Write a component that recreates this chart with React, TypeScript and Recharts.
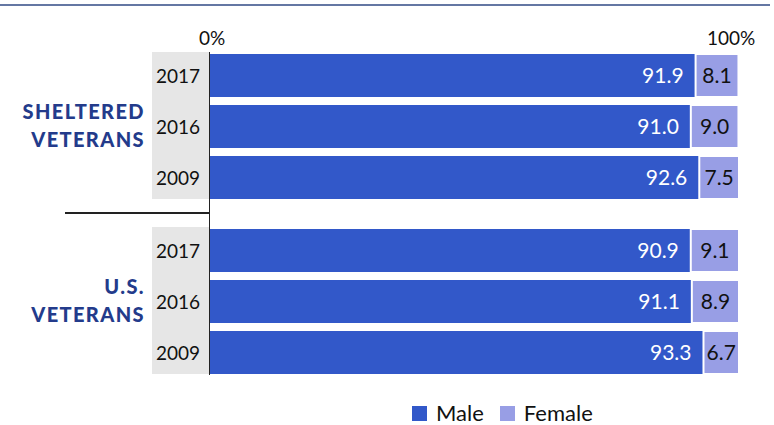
import React from 'react'
import { BarChart, Bar, XAxis, YAxis, LabelList } from 'recharts'

// Veterans by gender, sheltered vs all U.S. veterans (share of each year, %)
const years = ['2017', '2016', '2009']
const shelteredMale = [91.9, 91.0, 92.6]
const shelteredFemale = [8.1, 9.0, 7.5]
const usMale = [90.9, 91.1, 93.3]
const usFemale = [9.1, 8.9, 6.7]
const groupLabels = [['SHELTERED', 'VETERANS'], ['U.S.', 'VETERANS']]
const axisLabels = ['0%', '100%']

const MALE = '#3258c9'
const FEMALE = '#989ee5'
const NAVY = '#233b8b'
const FONT = 'Lato, "Open Sans", sans-serif'

function rows(male: number[], female: number[]) {
  return years.map((y, i) => ({ year: y, male: male[i], female: female[i] }))
}

const fmt = (v: number) => v.toFixed(1)

function YearTick({ x, y, payload }: { x?: number; y?: number; payload?: { value: string } }) {
  return (
    <text x={x} y={y} dy={7} textAnchor="end" fill="#111" fontSize={19} fontFamily={FONT}>
      {payload?.value}
    </text>
  )
}

function GroupChart({ data, top }: { data: ReturnType<typeof rows>; top: number }) {
  return (
    <div style={{ position: 'absolute', left: 152, top }}>
      <BarChart
        width={587}
        height={153}
        data={data}
        layout="vertical"
        margin={{ top: 0, right: 0, bottom: 0, left: 0 }}
        barSize={43}
      >
        <XAxis type="number" domain={[0, 100]} hide />
        <YAxis
          type="category"
          dataKey="year"
          width={57}
          axisLine={false}
          tickLine={false}
          tickMargin={3}
          tick={<YearTick />}
        />
        <Bar dataKey="male" stackId="g" fill={MALE} isAnimationActive={false}>
          <LabelList
            dataKey="male"
            position="insideRight"
            offset={12}
            formatter={fmt}
            fill="#fff"
            fontSize={21}
            fontFamily={FONT}
          />
        </Bar>
        <Bar dataKey="female" stackId="g" fill={FEMALE} stroke="#fff" strokeWidth={2} isAnimationActive={false}>
          <LabelList
            dataKey="female"
            position="center"
            formatter={fmt}
            fill="#111"
            fontSize={21}
            fontFamily={FONT}
          />
        </Bar>
      </BarChart>
    </div>
  )
}

function GroupLabel({ lines, top }: { lines: string[]; top: number }) {
  return (
    <div style={{
      position: 'absolute', right: 774 - 145, top, textAlign: 'right',
      color: NAVY, fontWeight: 900, fontSize: 20, lineHeight: '28px', fontFamily: FONT, letterSpacing: 1.4,
    }}>
      {lines.map(l => <div key={l}>{l}</div>)}
    </div>
  )
}

export default function App() {
  return (
    <div style={{ position: 'absolute', left: 0, top: 0, width: 774, height: 425, background: '#fff', fontFamily: FONT, overflow: 'hidden' }}>
      <div style={{ position: 'absolute', left: 0, top: 4, width: 770, height: 2, background: '#6477a3' }} />

      <div style={{ position: 'absolute', left: 199, top: 26, fontSize: 19, color: '#111' }}>{axisLabels[0]}</div>
      <div style={{ position: 'absolute', left: 707, top: 26, fontSize: 19, color: '#111' }}>{axisLabels[1]}</div>

      <div style={{ position: 'absolute', left: 152, top: 52, width: 57, height: 147, background: '#e6e6e6' }} />
      <div style={{ position: 'absolute', left: 152, top: 227, width: 57, height: 147, background: '#e6e6e6' }} />

      <GroupChart data={rows(shelteredMale, shelteredFemale)} top={50} />
      <GroupChart data={rows(usMale, usFemale)} top={225} />

      <GroupLabel lines={groupLabels[0]} top={97} />
      <GroupLabel lines={groupLabels[1]} top={272} />

      <div style={{ position: 'absolute', left: 65, top: 212, width: 144, height: 1.5, background: '#222' }} />
      <div style={{ position: 'absolute', left: 208.5, top: 52, width: 1.5, height: 323, background: '#222' }} />

      <div style={{ position: 'absolute', left: 412, top: 402, height: 22, lineHeight: '22px', display: 'flex', alignItems: 'center', fontSize: 22, color: '#111' }}>
        <span style={{ width: 15, height: 15, background: MALE, display: 'inline-block', marginRight: 9 }} />
        <span style={{ marginRight: 16 }}>Male</span>
        <span style={{ width: 15, height: 15, background: FEMALE, display: 'inline-block', marginRight: 9 }} />
        <span>Female</span>
      </div>
    </div>
  )
}
